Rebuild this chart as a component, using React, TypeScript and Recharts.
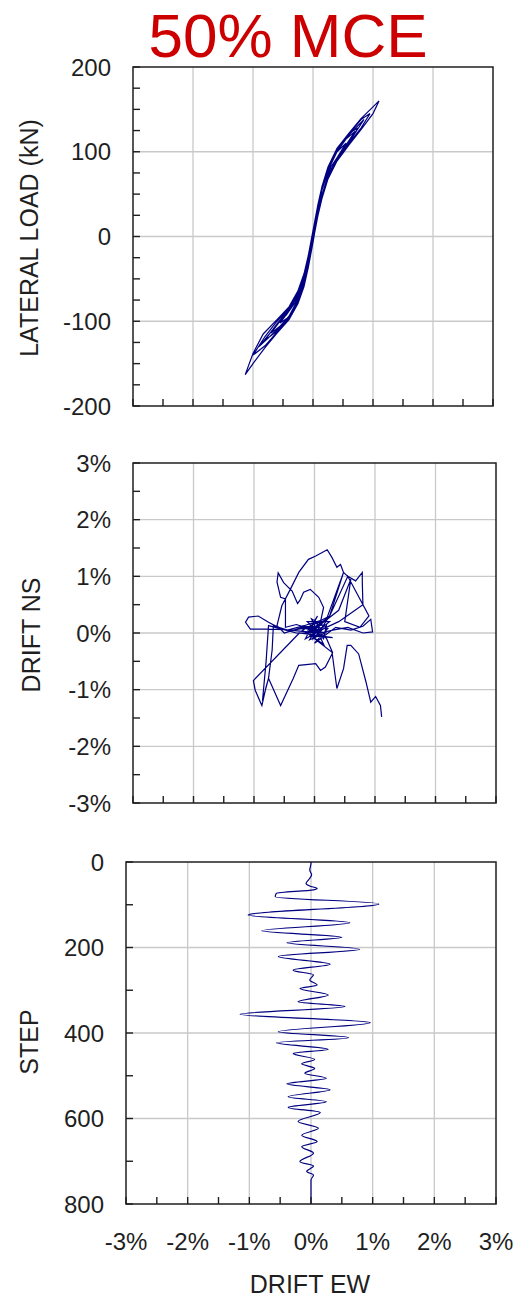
import { CartesianGrid, Line, LineChart, ReferenceArea, XAxis, YAxis } from "recharts";

const FONT = "'Liberation Sans', Arial, Helvetica, sans-serif";
const INK = "#1f1f1f";
const GRID = "#c9c9c9";
const TRACE = "#000080";

// shared EW drift axis (%)
const driftTicks = [-3, -2.5, -2, -1.5, -1, -0.5, 0, 0.5, 1, 1.5, 2, 2.5, 3];
const driftLabels = [-3, -2, -1, 0, 1, 2, 3];
const driftGrid = [-2, -1, 0, 1, 2];

const loadTicks = [-200, -175, -150, -125, -100, -75, -50, -25, 0, 25, 50, 75, 100, 125, 150, 175, 200];
const loadLabels = [-200, -100, 0, 100, 200];
const loadGrid = [-100, 0, 100];

const nsTicks = [-3, -2.5, -2, -1.5, -1, -0.5, 0, 0.5, 1, 1.5, 2, 2.5, 3];
const nsLabels = [-3, -2, -1, 0, 1, 2, 3];
const nsGrid = [-2, -1, 0, 1, 2];

const stepTicks = [0, 100, 200, 300, 400, 500, 600, 700, 800];
const stepLabels = [0, 200, 400, 600, 800];
const stepGrid = [200, 400, 600];

// load vs EW drift: [drift %, load kN], one cycle per array
const loop1 = [[0, 0], [0.08, 28], [0.15, 49], [0.25, 72], [0.3, 82], [0.25, 76], [0.15, 55], [0.08, 33], [0, 3], [-0.08, -27], [-0.15, -49], [-0.25, -70], [-0.3, -78], [-0.25, -74], [-0.15, -55], [-0.08, -33], [0, -3]];
const loop2 = [[0.08, 27], [0.15, 48], [0.25, 71], [0.4, 93], [0.55, 110], [0.4, 100], [0.25, 79], [0.15, 56], [0.08, 34], [0, 4], [-0.08, -26], [-0.15, -47], [-0.25, -68], [-0.4, -88], [-0.55, -102], [-0.4, -95], [-0.25, -76], [-0.15, -56], [-0.08, -34], [0, -4]];
const loop3 = [[0.08, 28], [0.15, 49], [0.25, 72], [0.45, 98], [0.25, 77], [0.15, 55], [0.08, 32], [0, 2], [-0.08, -27], [-0.15, -48], [-0.25, -69], [-0.45, -93], [-0.25, -73], [-0.15, -53], [-0.08, -31], [0, 0]];
const loop4 = [[0.08, 26], [0.15, 47], [0.25, 70], [0.4, 91], [0.6, 112], [0.75, 128], [0.6, 122], [0.4, 102], [0.25, 80], [0.15, 57], [0.08, 35], [0, 5], [-0.08, -25], [-0.15, -46], [-0.25, -66], [-0.4, -86], [-0.6, -103], [-0.8, -122], [-0.6, -112], [-0.4, -96], [-0.25, -77], [-0.15, -57], [-0.08, -35], [0, -5]];
const loop5 = [[0.08, 25], [0.15, 46], [0.25, 69], [0.4, 90], [0.6, 110], [0.8, 128], [0.95, 145], [0.8, 138], [0.6, 121], [0.4, 103], [0.25, 81], [0.15, 58], [0.08, 36], [0, 6], [-0.08, -24], [-0.15, -45], [-0.25, -65], [-0.4, -85], [-0.6, -100], [-0.8, -118], [-1.0, -140], [-0.8, -129], [-0.6, -113], [-0.4, -97], [-0.25, -78], [-0.15, -58], [-0.08, -36], [0, -6]];
const loop6 = [[0.08, 24], [0.15, 45], [0.25, 68], [0.4, 89], [0.6, 108], [0.8, 126], [1.0, 145], [1.1, 160], [1.0, 153], [0.8, 139], [0.6, 122], [0.4, 104], [0.25, 82], [0.15, 59], [0.08, 37], [0, 7], [-0.08, -23], [-0.15, -44], [-0.25, -64], [-0.4, -83], [-0.6, -98], [-0.83, -115], [-1.0, -138], [-1.13, -163], [-1.0, -150], [-0.8, -131], [-0.6, -114], [-0.4, -98], [-0.25, -79], [-0.15, -59], [-0.08, -37], [0, -7]];
const loop7 = [[0.08, 26], [0.15, 47], [0.25, 70], [0.4, 91], [0.6, 111], [0.85, 138], [0.6, 120], [0.4, 100], [0.25, 78], [0.15, 55], [0.08, 32], [0, 3], [-0.08, -26], [-0.15, -47], [-0.25, -68], [-0.4, -88], [-0.6, -104], [-0.9, -130], [-0.6, -110], [-0.4, -94], [-0.25, -74], [-0.15, -53], [-0.08, -30], [0, 0]];
const loop8 = [[0.08, 27], [0.15, 48], [0.25, 71], [0.4, 92], [0.55, 108], [0.7, 124], [0.55, 115], [0.4, 101], [0.25, 79], [0.15, 56], [0.08, 33], [0, 4], [-0.08, -25], [-0.15, -46], [-0.25, -67], [-0.4, -87], [-0.55, -100], [-0.7, -114], [-0.55, -106], [-0.4, -95], [-0.25, -76], [-0.15, -55], [-0.08, -33], [0, -3]];

// NS drift vs EW drift orbit: [EW %, NS %]
const orbitCentre = [
  [0, 0], [0.04, 0.03], [-0.03, 0.06], [0.06, -0.02], [-0.05, 0.1], [0.08, 0.12], [-0.1, 0.02], [0.12, 0.05], [-0.02, -0.1],
  [0.05, 0.18], [-0.15, 0.08], [0.18, 0], [-0.08, -0.12], [0.1, 0.22], [-0.2, 0.12], [0.22, 0.08], [0, -0.18],
  [0.35, 0.1], [0.6, 0.05], [0.8, 0.12], [0.93, 0.24], [0.96, 0.02], [0.8, 0], [0.55, 0.1], [0.3, 0.05], [0.1, 0],
];
const orbitLeftLoop = [
  [-0.2, 0.03], [-0.5, 0.06], [-0.76, 0.07], [-1.06, 0.07], [-1.14, 0.19], [-1.09, 0.28], [-0.93, 0.3], [-0.76, 0.19],
  [-0.6, 0.1], [-0.4, 0.04], [-0.1, 0.1], [0.2, 0.15], [0.15, -0.1], [-0.12, 0.2], [0.25, 0.2], [-0.05, -0.05], [0.3, -0.08], [-0.25, 0],
];
const orbitSouthWest = [
  [-1.01, -0.84], [-0.98, -1.01], [-0.87, -1.28], [-0.8, -0.95], [-0.76, -0.8], [-0.7, -0.3], [-0.68, 0.13], [-0.45, 0.05], [-0.2, 0.12], [0.1, 0.05],
];
const orbitArch = [
  [0.4, 0.2], [0.6, 0.35], [0.8, 0.5], [0.79, 0.9], [0.79, 1.07], [0.68, 0.92], [0.55, 1.0], [0.48, 1.07], [0.43, 1.21], [0.37, 1.16],
  [0.29, 1.33], [0.21, 1.47], [0.02, 1.36], [-0.1, 1.3], [-0.26, 1.07], [-0.4, 0.77], [-0.54, 0.48], [-0.62, 0.13], [-0.5, 0], [-0.2, 0.1], [0, 0.05],
];
const orbitNorthWest = [
  [-0.3, 0.15], [-0.48, 0.1], [-0.48, 0.6], [-0.56, 0.63], [-0.62, 0.9], [-0.6, 1.06], [-0.51, 0.89], [-0.37, 0.74], [-0.28, 0.52], [-0.24, 0.58],
  [-0.18, 0.72], [-0.07, 0.77], [0.07, 0.63], [0.15, 0.45], [0.1, 0.2], [0.05, 0],
  [-0.3, 0], [-0.76, 0.13], [-0.8, -0.5], [-0.86, -1.2], [-0.76, -0.8], [-0.56, -1.28], [-0.35, -0.8], [-0.26, -0.57], [0.02, -0.54],
  [0.1, -0.66], [0.18, -0.6], [0.3, -0.35], [0.2, -0.1], [0, 0.1],
];
const orbitNorthEast = [
  [0.2, 0.25], [0.48, 1.07], [0.25, 0.3], [0.55, 1.0], [0.9, 0.3], [0.75, 0.1], [0.5, 0.2], [0.6, 0.95], [0.4, 0.4], [0.1, 0.15], [-0.1, 0.05],
  [0.05, 0.3], [-0.15, -0.1], [0.2, 0.1], [-0.05, 0.25], [0.15, -0.2], [-0.2, 0.05], [0.25, 0.3], [0, -0.1],
];
const orbitTail = [
  [0.29, -0.34], [0.37, -0.98], [0.48, -0.63], [0.54, -0.22], [0.6, -0.22], [0.73, -0.37], [0.85, -0.86], [0.93, -1.22], [1.01, -1.12], [1.09, -1.28], [1.11, -1.48],
];

// EW drift history: [step, EW %]
const ewHistory = [
  [0, 0], [3, 0], [19, -0.02], [30, 0.01], [42, -0.04], [50, -0.08], [56, -0.02], [62, 0.1], [65, 0.04], [73, -0.56], [81, -0.58],
  [98, 1.1], [124, -1.02], [142, 0.63], [161, -0.8], [176, 0.5], [189, -0.39], [204, 0.79], [221, -0.53], [239, 0.31], [253, -0.29],
  [264, 0.04], [276, -0.02], [288, 0.1], [296, -0.18], [311, 0.28], [327, -0.21], [338, 0.55], [356, -1.15], [376, 0.96], [397, -0.53],
  [411, 0.61], [423, -0.56], [438, 0.28], [448, -0.29], [462, 0.06], [472, -0.15], [483, 0.06], [494, -0.1], [506, 0.25], [519, -0.39],
  [533, 0.31], [549, -0.37], [561, 0.25], [574, -0.37], [586, 0.15], [607, -0.21], [623, 0.12], [639, -0.15], [654, 0.1], [666, -0.15],
  [681, 0.04], [701, -0.18], [711, 0.04], [724, -0.07], [732, 0.04], [744, 0], [800, 0],
];

const loadData = [...loop1, ...loop2, ...loop3, ...loop4, ...loop5, ...loop6, ...loop7, ...loop8].map(([x, y]) => ({ x, y }));
const orbitData = [
  ...orbitCentre,
  ...orbitLeftLoop,
  ...orbitSouthWest,
  ...orbitArch,
  ...orbitNorthWest,
  ...orbitNorthEast,
  ...orbitTail,
].map(([x, y]) => ({ x, y }));
const historyData = ewHistory.map(([step, drift]) => ({ x: drift, y: step }));

const pct = (v: number) => `${v}%`;
const plain = (v: number) => `${v}`;

function leftTick(labels: number[], fmt: (v: number) => string) {
  return (p: any) => {
    const v = p.payload.value;
    return (
      <g>
        <line x1={p.x} x2={p.x + 7} y1={p.y} y2={p.y} stroke={INK} strokeWidth={1.4} />
        {labels.includes(v) && (
          <text x={p.x - 22} y={p.y} dy="0.36em" textAnchor="end" fontFamily={FONT} fontSize={24} fill={INK}>
            {fmt(v)}
          </text>
        )}
      </g>
    );
  };
}

function bottomTick(labels: number[] | null) {
  return (p: any) => {
    const v = p.payload.value;
    return (
      <g>
        <line x1={p.x} x2={p.x} y1={p.y} y2={p.y - 7} stroke={INK} strokeWidth={1.4} />
        {labels && labels.includes(v) && (
          <text x={p.x} y={p.y + 46} textAnchor="middle" fontFamily={FONT} fontSize={24} fill={INK}>
            {pct(v)}
          </text>
        )}
      </g>
    );
  };
}

interface PanelProps {
  top: number;
  height: number;
  plotTop: number;
  plotBottom: number;
  plotLeft: number;
  plotRight: number;
  data: { x: number; y: number }[];
  yDomain: [number, number];
  yTicks: number[];
  yLabels: number[];
  yGrid: number[];
  yFmt: (v: number) => string;
  reversed?: boolean;
  curve: "linear" | "monotoneY";
  xLabels: number[] | null;
}

function Panel(props: PanelProps) {
  const { top, height, plotTop, plotBottom, plotLeft, plotRight, data, yDomain } = props;
  return (
    <div style={{ position: "absolute", left: 0, top }}>
      <LineChart
        width={518}
        height={height}
        data={data}
        margin={{ top: plotTop - top, right: 518 - plotRight, bottom: 0, left: 0 }}
      >
        <CartesianGrid
          stroke={GRID}
          strokeWidth={1.3}
          verticalValues={driftGrid}
          horizontalValues={props.yGrid}
        />
        <XAxis
          type="number"
          dataKey="x"
          domain={[-3, 3]}
          ticks={driftTicks}
          interval={0}
          allowDataOverflow
          axisLine={false}
          tickLine={false}
          tickSize={0}
          tickMargin={0}
          height={top + height - plotBottom}
          tick={bottomTick(props.xLabels)}
        />
        <YAxis
          type="number"
          domain={yDomain}
          ticks={props.yTicks}
          interval={0}
          reversed={props.reversed}
          allowDataOverflow
          axisLine={false}
          tickLine={false}
          tickSize={0}
          tickMargin={0}
          width={plotLeft}
          tick={leftTick(props.yLabels, props.yFmt)}
        />
        <ReferenceArea
          x1={-3}
          x2={3}
          y1={yDomain[0]}
          y2={yDomain[1]}
          fill="none"
          stroke={INK}
          strokeWidth={1.5}
          ifOverflow="visible"
        />
        <Line
          type={props.curve}
          dataKey="y"
          stroke={TRACE}
          strokeWidth={1.2}
          dot={false}
          activeDot={false}
          isAnimationActive={false}
        />
      </LineChart>
    </div>
  );
}

export default function App() {
  return (
    <div style={{ position: "absolute", left: 0, top: 0, width: 518, height: 1301, background: "#fff" }}>
      <Panel
        top={0}
        height={420}
        plotTop={67}
        plotBottom={406}
        plotLeft={133}
        plotRight={493}
        data={loadData}
        yDomain={[-200, 200]}
        yTicks={loadTicks}
        yLabels={loadLabels}
        yGrid={loadGrid}
        yFmt={plain}
        curve="linear"
        xLabels={null}
      />
      <Panel
        top={420}
        height={400}
        plotTop={463}
        plotBottom={803}
        plotLeft={133}
        plotRight={496}
        data={orbitData}
        yDomain={[-3, 3]}
        yTicks={nsTicks}
        yLabels={nsLabels}
        yGrid={nsGrid}
        yFmt={pct}
        curve="linear"
        xLabels={null}
      />
      <Panel
        top={820}
        height={481}
        plotTop={862}
        plotBottom={1204}
        plotLeft={126}
        plotRight={496}
        data={historyData}
        yDomain={[0, 800]}
        yTicks={stepTicks}
        yLabels={stepLabels}
        yGrid={stepGrid}
        yFmt={plain}
        reversed
        curve="monotoneY"
        xLabels={driftLabels}
      />
      <svg
        width={518}
        height={1301}
        style={{ position: "absolute", left: 0, top: 0, pointerEvents: "none" }}
        fontFamily={FONT}
      >
        <text x={288} y={57} textAnchor="middle" fontSize={62} fill="#cc0000">
          50% MCE
        </text>
        <text x={38} y={238} transform="rotate(-90 38 238)" textAnchor="middle" fontSize={25} fill={INK}>
          LATERAL LOAD (kN)
        </text>
        <text x={40} y={635} transform="rotate(-90 40 635)" textAnchor="middle" fontSize={25} fill={INK}>
          DRIFT NS
        </text>
        <text x={38} y={1042} transform="rotate(-90 38 1042)" textAnchor="middle" fontSize={25} fill={INK}>
          STEP
        </text>
        <text x={310} y={1293} textAnchor="middle" fontSize={25} fill={INK}>
          DRIFT EW
        </text>
      </svg>
    </div>
  );
}
